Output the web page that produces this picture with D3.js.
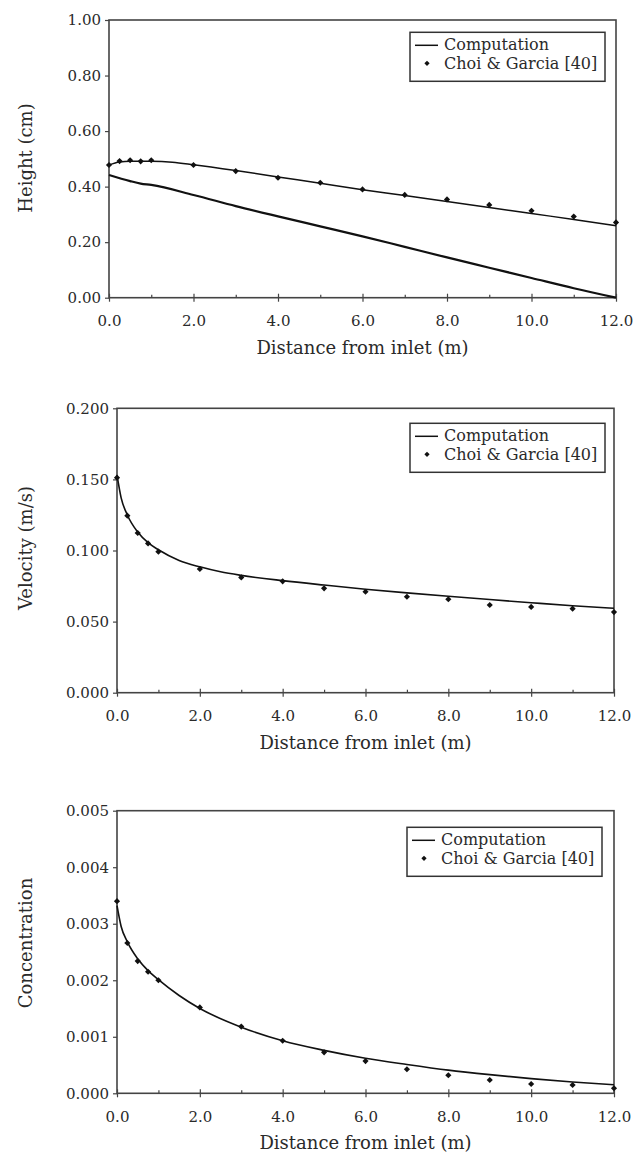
<!DOCTYPE html>
<html>
<head>
<meta charset="utf-8">
<script src="https://cdn.jsdelivr.net/npm/d3@7"></script>
<style>
  body { margin: 0; background: #fff; }
  text { font-family: "DejaVu Serif", "Liberation Serif", serif; fill: #2a2a2a; }
</style>
</head>
<body>
<div id="chart"></div>
<script>
const width = 636,
    height = 1152;

// x positions of the measured points (m)
const distObs = [0, 0.25, 0.5, 0.75, 1, 2, 3, 4, 5, 6, 7, 8, 9, 10, 11, 12];

// panel 1 - height (cm)
const heightObs = [0.478, 0.492, 0.495, 0.491, 0.495, 0.478, 0.456, 0.432, 0.414, 0.390, 0.370, 0.354, 0.334, 0.313, 0.292, 0.271];
const heightCompX = [0, 0.25, 0.5, 1, 1.5, 2, 3, 4, 5, 6, 7, 8, 9, 10, 11, 12];
const heightComp = [0.478, 0.489, 0.491, 0.491, 0.488, 0.479, 0.458, 0.435, 0.412, 0.389, 0.368, 0.346, 0.325, 0.303, 0.282, 0.259];
const lowerCompX = [0, 0.5, 0.75, 1, 2, 3, 4, 5, 6, 7, 8, 9, 10, 11, 12];
const lowerComp = [0.442, 0.420, 0.411, 0.406, 0.370, 0.330, 0.293, 0.257, 0.221, 0.183, 0.145, 0.108, 0.071, 0.034, 0.0];

// panel 2 - velocity (m/s)
const velocityObs = [0.1512, 0.1245, 0.1123, 0.1050, 0.0992, 0.0870, 0.0811, 0.0783, 0.0734, 0.0710, 0.0675, 0.0657, 0.0617, 0.0603, 0.0591, 0.0567];
const velocityCompX = [0, 0.1, 0.25, 0.5, 0.75, 1, 1.5, 2, 2.5, 3, 4, 5, 6, 7, 8, 9, 10, 11, 12];
const velocityComp = [0.153, 0.137, 0.125, 0.113, 0.1055, 0.1005, 0.093, 0.0885, 0.085, 0.0825, 0.0788, 0.0757, 0.0728, 0.0702, 0.0678, 0.0655, 0.0633, 0.0612, 0.0594];

// panel 3 - concentration
const concObs = [0.00340, 0.00266, 0.00234, 0.00215, 0.00200, 0.00152, 0.00118, 0.00093, 0.000725, 0.00057, 0.000425, 0.00032, 0.000236, 0.000165, 0.000147, 0.000089];
const concCompX = [0, 0.1, 0.25, 0.5, 0.75, 1, 1.5, 2, 3, 4, 5, 6, 7, 8, 9, 10, 11, 12];
const concComp = [0.00332, 0.00295, 0.00268, 0.00238, 0.00217, 0.00201, 0.00173, 0.00150, 0.00117, 0.00093, 0.00076, 0.00062, 0.00051, 0.00041, 0.00033, 0.00026, 0.00020, 0.00015];

// tick values
const xMajor = [0, 2, 4, 6, 8, 10, 12];
const xMinor = [1, 3, 5, 7, 9, 11];
const heightTicks = [0, 0.2, 0.4, 0.6, 0.8, 1.0];
const velocityTicks = [0, 0.05, 0.1, 0.15, 0.2];
const concTicks = [0, 0.001, 0.002, 0.003, 0.004, 0.005];

const legendLabels = ["Computation", "Choi & Garcia [40]"];
const xTitle = "Distance from inlet (m)";

const svg = d3.select("#chart")
    .append("svg")
    .attr("width", width)
    .attr("height", height)
    .attr("viewBox", [0, 0, width, height]);

function drawPanel(p) {
    let x = d3.scaleLinear()
        .domain([0, 12])
        .range([p.left, p.right]);

    let y = d3.scaleLinear()
        .domain(p.yDomain)
        .range([p.bottom, p.top]);

    let g = svg.append("g");

    // y axis, small outward ticks
    let ya = g.append("g")
        .attr("transform", `translate(${p.left},0)`)
        .call(d3.axisLeft(y)
            .tickValues(p.yTicks)
            .tickFormat(d3.format(p.yFormat))
            .tickSize(4)
            .tickPadding(4)
            .tickSizeOuter(0));
    ya.select(".domain").remove();
    ya.selectAll("line").attr("stroke", "#444").attr("stroke-width", 1.2);
    ya.selectAll("text").attr("font-size", 15).attr("fill", "#2a2a2a");

    // minor x ticks pointing inward
    let xm = g.append("g")
        .attr("transform", `translate(0,${p.bottom})`)
        .call(d3.axisBottom(x).tickValues(xMinor).tickSize(-3).tickFormat(""));
    xm.select(".domain").remove();
    xm.selectAll("line").attr("stroke", "#444").attr("stroke-width", 1.2);

    // major x ticks crossing the axis
    let xa = g.append("g")
        .attr("transform", `translate(0,${p.bottom})`)
        .call(d3.axisBottom(x)
            .tickValues(xMajor)
            .tickFormat(d3.format(".1f"))
            .tickSize(4)
            .tickPadding(14)
            .tickSizeOuter(0));
    xa.select(".domain").remove();
    xa.selectAll("line").attr("y1", -4).attr("stroke", "#444").attr("stroke-width", 1.2);
    xa.selectAll("text").attr("font-size", 15).attr("fill", "#2a2a2a");

    // frame
    g.append("rect")
        .attr("x", p.left)
        .attr("y", p.top)
        .attr("width", p.right - p.left)
        .attr("height", p.bottom - p.top)
        .attr("fill", "none")
        .attr("stroke", "#444")
        .attr("stroke-width", 1.6);

    // axis titles
    g.append("text")
        .attr("x", (p.left + p.right) / 2)
        .attr("y", p.bottom + 56)
        .attr("text-anchor", "middle")
        .attr("font-size", 18)
        .text(xTitle);

    g.append("text")
        .attr("transform", `translate(32,${p.yTitleY}) rotate(-90)`)
        .attr("text-anchor", "middle")
        .attr("font-size", 18)
        .text(p.yTitle);

    let line = d3.line()
        .x(d => x(d[0]))
        .y(d => y(d[1]))
        .curve(d3.curveMonotoneX);

    // computed curves
    p.curves.forEach(c => {
        g.append("path")
            .datum(d3.zip(c.xs, c.ys))
            .attr("d", line)
            .attr("fill", "none")
            .attr("stroke", "#111")
            .attr("stroke-width", c.w);
    });

    // measured points (small squares turned 45 deg)
    let marker = d3.symbol().type(d3.symbolSquare).size(19);
    g.append("g")
        .selectAll("path")
        .data(d3.zip(distObs, p.obs))
        .join("path")
        .attr("transform", d => `translate(${x(d[0])},${y(d[1])}) rotate(45)`)
        .attr("d", marker)
        .attr("fill", "#111");

    // legend
    let lg = g.append("g").attr("transform", `translate(${p.legX},${p.legY})`);
    lg.append("rect")
        .attr("width", 195)
        .attr("height", 49)
        .attr("fill", "#fff")
        .attr("stroke", "#333")
        .attr("stroke-width", 1.5);
    lg.append("line")
        .attr("x1", 5).attr("x2", 28)
        .attr("y1", 13).attr("y2", 13)
        .attr("stroke", "#111")
        .attr("stroke-width", 1.5);
    lg.append("path")
        .attr("transform", "translate(17,31) rotate(45)")
        .attr("d", d3.symbol().type(d3.symbolSquare).size(14))
        .attr("fill", "#111");
    lg.selectAll("text.leg")
        .data(legendLabels)
        .join("text")
        .attr("class", "leg")
        .attr("x", 34)
        .attr("y", (d, i) => 18 + i * 18.5)
        .attr("font-size", 16)
        .text(d => d);
}

drawPanel({
    left: 109, right: 616, top: 20, bottom: 297.7,
    yDomain: [0, 1], yTicks: heightTicks, yFormat: ".2f",
    yTitle: "Height (cm)", yTitleY: 158,
    obs: heightObs,
    curves: [{ xs: heightCompX, ys: heightComp, w: 1.5 }, { xs: lowerCompX, ys: lowerComp, w: 2.2 }],
    legX: 410, legY: 32.3
});

drawPanel({
    left: 117, right: 614, top: 408.3, bottom: 692.7,
    yDomain: [0, 0.2], yTicks: velocityTicks, yFormat: ".3f",
    yTitle: "Velocity (m/s)", yTitleY: 548,
    obs: velocityObs,
    curves: [{ xs: velocityCompX, ys: velocityComp, w: 1.6 }],
    legX: 410, legY: 423.3
});

drawPanel({
    left: 117, right: 614, top: 810.7, bottom: 1093.3,
    yDomain: [0, 0.005], yTicks: concTicks, yFormat: ".3f",
    yTitle: "Concentration", yTitleY: 943,
    obs: concObs,
    curves: [{ xs: concCompX, ys: concComp, w: 1.6 }],
    legX: 407, legY: 827.3
});
</script>
</body>
</html>
